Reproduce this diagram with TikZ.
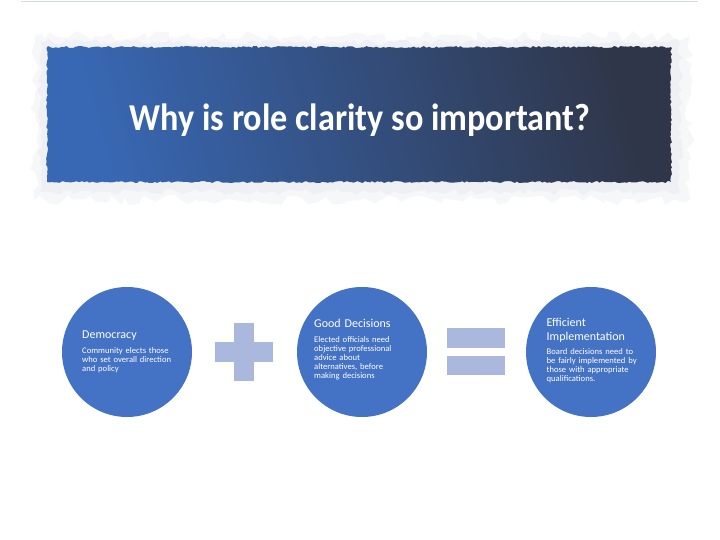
\documentclass[tikz,border=0pt]{standalone}
\usepackage{fontspec}
\setmainfont{Carlito}
\usetikzlibrary{decorations.pathmorphing}
\definecolor{circ}{HTML}{4472C4}
\definecolor{sym}{HTML}{AAB8DE}
\definecolor{banA}{HTML}{3868B4}
\definecolor{banM}{HTML}{34569A}
\definecolor{banB}{HTML}{2F3649}
\definecolor{halo}{HTML}{E2E7EE}
\definecolor{topline}{HTML}{D3DBE3}
\begin{document}
\begin{tikzpicture}[x=1pt,y=-1pt,
  bubble/.style={circle, fill=circ, minimum size=130pt, inner sep=0pt},
  head/.style={text=white, font=\fontsize{12}{13.3}\selectfont, anchor=base west, inner sep=0pt, align=left, text width=110pt},
  body/.style={text=white, font=\fontsize{8.6}{9.2}\selectfont, anchor=base west, inner sep=0pt, align=left, text width=110pt},
  bar/.style={fill=sym, inner sep=0pt, draw=none},
  rough/.style={decorate, decoration={random steps, segment length=2.5pt, amplitude=1pt}},
]
\pgfmathsetseed{7}
\useasboundingbox (0,0) rectangle (720,540);
\fill[white] (0,0) rectangle (720,540);
% top rule
\draw[topline, line width=1pt] (21,1.5) -- (698,1.5);
% banner halo
\fill[halo, opacity=0.3, decorate, decoration={random steps, segment length=7pt, amplitude=5pt}]
  (34,36) rectangle (690,200);
\fill[halo, opacity=0.4, decorate, decoration={random steps, segment length=5pt, amplitude=3pt}]
  (40,42) rectangle (680,192);
% banner
\shade[rough, left color=banA, middle color=banM, right color=banB, shading angle=105]
  (47,47) rectangle (671,182);
\node[text=white, font=\fontsize{38}{40}\selectfont\bfseries, anchor=base, inner sep=0pt] (title) at (360,131)
  {\scalebox{0.9}[1]{Why is role clarity so important?}};
% circles
\node[bubble] (c1) at (127,352) {};
\node[bubble] (c2) at (362,352) {};
\node[bubble] (c3) at (591,352) {};
% texts
\node[head] (h1) at (82,338) {Democracy};
\node[body] (b1) at (82,353) {Community elects those\\who set overall direction\\and policy};
\node[head] (h2) at (314,327) {Good Decisions};
\node[body] (b2) at (314,342) {Elected officials need\\objective professional\\advice about\\alternatives, before\\making decisions};
\node[head] (h3) at (546.5,326.7) {Efficient\\Implementation};
\node[body] (b3) at (546.5,354) {Board decisions need to\\be fairly implemented by\\those with appropriate\\qualifications.};
% plus
\node[bar, minimum width=58pt, minimum height=20pt] (plusH) at (244,352) {};
\node[bar, minimum width=20pt, minimum height=58pt] (plusV) at (244,352) {};
% equals
\node[bar, minimum width=58pt, minimum height=20pt] (eq1) at (476,338) {};
\node[bar, minimum width=58pt, minimum height=19pt] (eq2) at (476,365.5) {};
\end{tikzpicture}
\end{document}
